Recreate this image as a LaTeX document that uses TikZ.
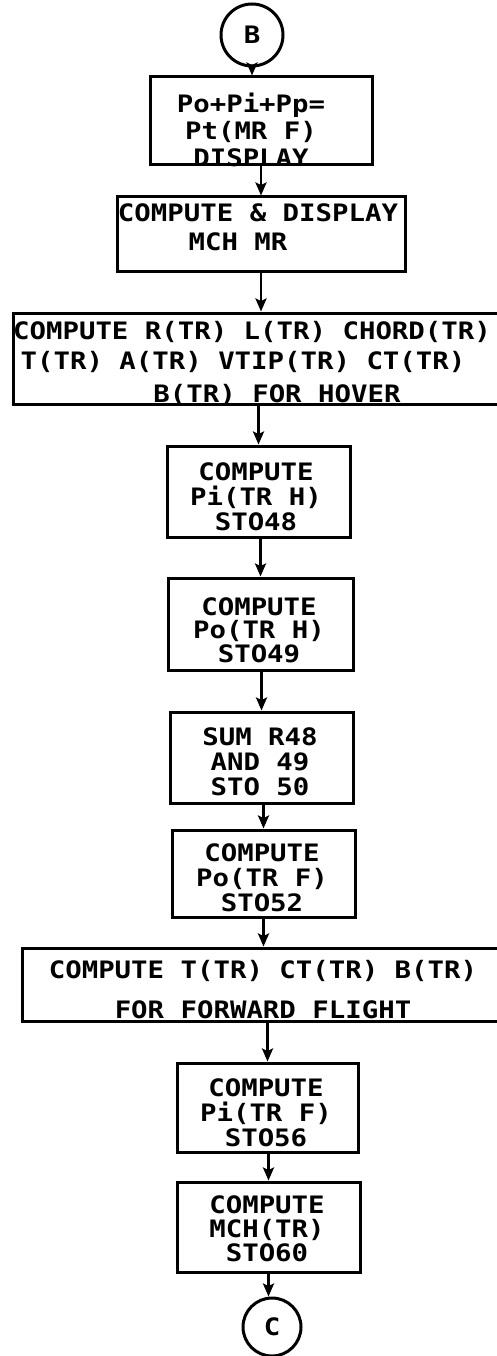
\documentclass[tikz,border=0pt]{standalone}
\usepackage{fontspec}
\newfontfamily\leroy[FakeStretch=1.14]{DejaVu Sans Mono}
\usetikzlibrary{arrows.meta}
\begin{document}
\begin{tikzpicture}[x=1pt,y=-1pt,
  box/.style={draw, line width=3pt, rectangle, inner sep=0pt},
  txt/.style={font=\leroy\bfseries\fontsize{24}{25}\selectfont, align=center, inner sep=0pt},
  conn/.style={line width=2.6pt, -{Stealth[length=13pt,width=11pt,inset=2.5pt]}},
  term/.style={draw, circle, line width=3pt, inner sep=0pt, font=\leroy\bfseries\fontsize{24}{25}\selectfont}]
\useasboundingbox (0,0) rectangle (497,1356);
\clip (0,0) rectangle (497,1356);
\node[term, minimum size=62pt] (B) at (252,35) {B};
\node[box, minimum width=222pt, minimum height=88pt] (b1) at (261,121) {};
\node[txt, font=\leroy\bfseries\fontsize{24}{27}\selectfont] (t1) at (251,130) {Po+Pi+Pp=\\Pt(MR F)\\DISPLAY};

\node[box, minimum width=288pt, minimum height=74pt] (b2) at (261,234) {};
\node[txt] (t2a) at (258,213) {COMPUTE \& DISPLAY};
\node[txt] (t2b) at (238,242) {MCH MR};

\node[box, minimum width=487pt, minimum height=91pt] (b3) at (256.5,358.5) {};
\node[txt] (t3a) at (252,332) {COMPUTE R(TR) L(TR) CHORD(TR)};
\node[txt] (t3b) at (243,362) {T(TR) A(TR) VTIP(TR) CT(TR)};
\node[txt] (t3c) at (277,395) {B(TR) FOR HOVER};

\node[box, minimum width=183pt, minimum height=91pt] (b4) at (258.5,491.5) {};
\node[txt] (t4) at (256,497) {COMPUTE\\Pi(TR H)\\STO48};

\node[box, minimum width=185pt, minimum height=92pt] (b5) at (260.5,624) {};
\node[txt, font=\leroy\bfseries\fontsize{24}{23.5}\selectfont] (t5) at (259,630) {COMPUTE\\Po(TR H)\\STO49};

\node[box, minimum width=183pt, minimum height=91pt] (b6) at (261.5,757.5) {};
\node[txt] (t6) at (260,762) {SUM R48\\AND 49\\STO 50};

\node[box, minimum width=183pt, minimum height=87pt] (b7) at (263.5,873.5) {};
\node[txt] (t7) at (262,878) {COMPUTE\\Po(TR F)\\STO52};

\node[box, minimum width=478pt, minimum height=73pt] (b8) at (261,984.5) {};
\node[txt, font=\leroy\bfseries\fontsize{24}{40}\selectfont] (t8) at (263,990) {COMPUTE T(TR) CT(TR) B(TR)\\FOR FORWARD FLIGHT};

\node[box, minimum width=181pt, minimum height=89pt] (b9) at (267.5,1107.5) {};
\node[txt] (t9) at (266,1113) {COMPUTE\\Pi(TR F)\\STO56};

\node[box, minimum width=183pt, minimum height=90pt] (b10) at (268.5,1227) {};
\node[txt, font=\leroy\bfseries\fontsize{24}{24}\selectfont] (t10) at (267,1229) {COMPUTE\\MCH(TR)\\STO60};

\node[term, minimum size=58pt] (C) at (272,1327) {C};

\draw[conn] (B.south) -- (B.south |- b1.north);
\draw[conn] (b2.north |- b1.south) -- (b2.north);
\draw[conn] (b2.south) -- (b2.south |- b3.north);
\draw[conn] (b4.north |- b3.south) -- (b4.north);
\draw[conn] (b5.north |- b4.south) -- (b5.north);
\draw[conn] (b6.north |- b5.south) -- (b6.north);
\draw[conn] (b7.north |- b6.south) -- (b7.north);
\draw[conn] (b7.south) -- (b7.south |- b8.north);
\draw[conn] (b9.north |- b8.south) -- (b9.north);
\draw[conn] (b10.north |- b9.south) -- (b10.north);
\draw[conn] (b10.south) -- (b10.south |- C.north);
\end{tikzpicture}
\end{document}
